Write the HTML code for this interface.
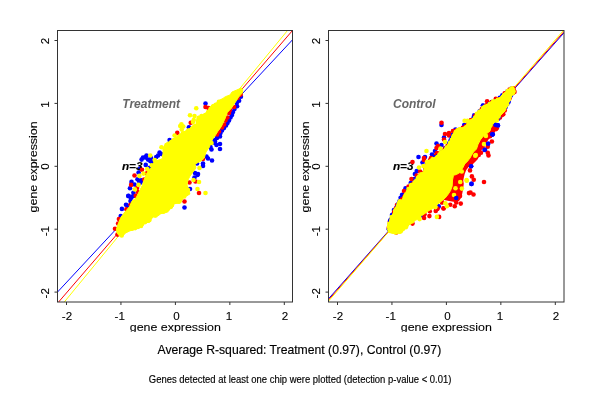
<!DOCTYPE html><html><head><meta charset="utf-8"><title>R-squared plot</title><style>
html,body{margin:0;padding:0;background:#fff;}svg{display:block;}
text{font-family:"Liberation Sans",Arial,Helvetica,sans-serif;fill:#000;stroke:#000;stroke-width:0.15px;}
.ax{font-size:11.6px;stroke-width:0.1px;}.lab{font-size:11.4px;stroke-width:0.1px;}.ttl{font-size:12.2px;}.sub{font-size:10.2px;}
.nm{font-size:12px;font-weight:bold;font-style:italic;fill:#666;stroke:none;}.n3{font-size:11.2px;font-weight:bold;font-style:italic;}
</style></head><body>
<svg width="600" height="400" viewBox="0 0 600 400">
<defs><clipPath id="clipb"><rect x="0" y="0" width="600" height="332"/></clipPath>
<clipPath id="cl"><rect x="57.5" y="30.5" width="235" height="271.5"/></clipPath>
<clipPath id="cr"><rect x="328.5" y="30.5" width="235.5" height="271.5"/></clipPath></defs>
<rect width="600" height="400" fill="#fff"/>
<path d="M66.50 302V305 M120.95 302V305 M175.40 302V305 M229.85 302V305 M284.30 302V305 M57.50 40.50H54.50 M57.50 103.40H54.50 M57.50 166.30H54.50 M57.50 229.20H54.50 M57.50 292.10H54.50" stroke="#333" stroke-width="1" fill="none"/>
<text x="67.00" y="319.5" text-anchor="middle" class="ax">-2</text>
<text x="119.75" y="319.5" text-anchor="middle" class="ax">-1</text>
<text x="176.40" y="319.5" text-anchor="middle" class="ax">0</text>
<text x="229.05" y="319.5" text-anchor="middle" class="ax">1</text>
<text x="284.90" y="319.5" text-anchor="middle" class="ax">2</text>
<text transform="translate(49.00,41.00) rotate(-90)" text-anchor="middle" class="ax">2</text>
<text transform="translate(49.00,104.60) rotate(-90)" text-anchor="middle" class="ax">1</text>
<text transform="translate(49.00,166.60) rotate(-90)" text-anchor="middle" class="ax">0</text>
<text transform="translate(49.00,231.20) rotate(-90)" text-anchor="middle" class="ax">-1</text>
<text transform="translate(49.00,293.30) rotate(-90)" text-anchor="middle" class="ax">-2</text>
<text x="175.30" y="331" text-anchor="middle" class="lab" textLength="91" lengthAdjust="spacingAndGlyphs" clip-path="url(#clipb)">gene expression</text>
<text transform="translate(36.90,166.9) rotate(-90)" text-anchor="middle" class="lab" textLength="91" lengthAdjust="spacingAndGlyphs">gene expression</text>
<text x="122.3" y="107.5" class="nm">Treatment</text>
<g clip-path="url(#cl)">
<line x1="57.5" y1="292.05" x2="292.5" y2="39.8" stroke="#00f" stroke-width="1"/>
<line x1="58.6" y1="302" x2="292.5" y2="30.5" stroke="#f00" stroke-width="1"/>
<line x1="64.3" y1="302" x2="287.5" y2="30.5" stroke="#ff0" stroke-width="1"/>
</g>
<g fill="#00f"><circle cx="240.90" cy="96.70" r="2.3"/><circle cx="239.10" cy="100.70" r="2.3"/><circle cx="236.80" cy="103.00" r="2.3"/><circle cx="237.10" cy="106.20" r="2.3"/><circle cx="234.50" cy="109.00" r="2.3"/><circle cx="233.00" cy="112.00" r="2.3"/><circle cx="232.00" cy="115.00" r="2.3"/><circle cx="230.50" cy="117.50" r="2.3"/><circle cx="229.00" cy="120.50" r="2.3"/><circle cx="227.50" cy="123.00" r="2.3"/><circle cx="226.00" cy="125.50" r="2.3"/><circle cx="224.00" cy="128.00" r="2.3"/><circle cx="222.00" cy="130.50" r="2.3"/><circle cx="220.50" cy="133.00" r="2.3"/><circle cx="219.00" cy="135.50" r="2.3"/><circle cx="217.00" cy="138.00" r="2.3"/><circle cx="214.50" cy="140.00" r="2.3"/><circle cx="220.00" cy="136.50" r="2.3"/><circle cx="211.00" cy="143.00" r="2.3"/><circle cx="215.00" cy="143.00" r="2.3"/><circle cx="209.00" cy="146.00" r="2.3"/><circle cx="205.50" cy="103.50" r="2.3"/><circle cx="188.90" cy="127.25" r="2.3"/><circle cx="215.00" cy="141.50" r="2.3"/><circle cx="220.00" cy="144.00" r="2.3"/><circle cx="220.00" cy="149.00" r="2.3"/><circle cx="211.50" cy="149.50" r="2.3"/><circle cx="210.50" cy="147.00" r="2.3"/><circle cx="216.50" cy="145.00" r="2.3"/><circle cx="206.50" cy="156.50" r="2.3"/><circle cx="208.00" cy="158.50" r="2.3"/><circle cx="212.00" cy="160.50" r="2.3"/><circle cx="203.00" cy="163.50" r="2.3"/><circle cx="197.00" cy="163.50" r="2.3"/><circle cx="203.00" cy="166.00" r="2.3"/><circle cx="198.00" cy="174.00" r="2.3"/><circle cx="195.00" cy="173.00" r="2.3"/><circle cx="194.50" cy="177.50" r="2.3"/><circle cx="197.50" cy="175.00" r="2.3"/><circle cx="190.00" cy="189.00" r="2.3"/><circle cx="184.50" cy="207.50" r="2.3"/><circle cx="141.60" cy="159.60" r="2.3"/><circle cx="145.40" cy="157.40" r="2.3"/><circle cx="148.00" cy="159.60" r="2.3"/><circle cx="150.30" cy="161.10" r="2.3"/><circle cx="145.75" cy="164.90" r="2.3"/><circle cx="146.50" cy="155.50" r="2.3"/><circle cx="151.00" cy="158.00" r="2.3"/><circle cx="152.00" cy="162.00" r="2.3"/><circle cx="143.00" cy="157.50" r="2.3"/><circle cx="156.25" cy="157.00" r="2.3"/><circle cx="159.60" cy="152.50" r="2.3"/><circle cx="161.50" cy="154.00" r="2.3"/><circle cx="158.10" cy="155.50" r="2.3"/><circle cx="149.50" cy="167.90" r="2.3"/><circle cx="140.00" cy="168.50" r="2.3"/><circle cx="175.80" cy="140.50" r="2.3"/><circle cx="169.60" cy="140.00" r="2.3"/><circle cx="138.60" cy="172.50" r="2.3"/><circle cx="137.50" cy="179.25" r="2.3"/><circle cx="141.25" cy="180.40" r="2.3"/><circle cx="140.50" cy="182.60" r="2.3"/><circle cx="139.00" cy="181.00" r="2.3"/><circle cx="131.50" cy="181.90" r="2.3"/><circle cx="134.50" cy="184.50" r="2.3"/><circle cx="130.00" cy="188.25" r="2.3"/><circle cx="133.40" cy="192.75" r="2.3"/><circle cx="128.50" cy="195.75" r="2.3"/><circle cx="132.25" cy="196.50" r="2.3"/><circle cx="128.25" cy="196.10" r="2.3"/><circle cx="130.90" cy="198.00" r="2.3"/><circle cx="134.25" cy="195.75" r="2.3"/><circle cx="130.50" cy="201.00" r="2.3"/><circle cx="126.00" cy="204.75" r="2.3"/><circle cx="127.50" cy="205.90" r="2.3"/><circle cx="121.90" cy="208.90" r="2.3"/><circle cx="120.75" cy="216.00" r="2.3"/></g>
<text x="121.9" y="169.8" class="n3" textLength="20.6" lengthAdjust="spacingAndGlyphs">n=3</text>
<g fill="#f00"><circle cx="240.60" cy="94.60" r="2.3"/><circle cx="237.60" cy="98.00" r="2.3"/><circle cx="234.00" cy="107.00" r="2.3"/><circle cx="230.00" cy="110.00" r="2.3"/><circle cx="229.00" cy="113.00" r="2.3"/><circle cx="227.40" cy="117.50" r="2.3"/><circle cx="225.40" cy="120.50" r="2.3"/><circle cx="224.00" cy="124.50" r="2.3"/><circle cx="222.00" cy="127.50" r="2.3"/><circle cx="219.00" cy="131.50" r="2.3"/><circle cx="217.00" cy="134.50" r="2.3"/><circle cx="205.50" cy="107.00" r="2.3"/><circle cx="208.50" cy="108.00" r="2.3"/><circle cx="190.75" cy="122.75" r="2.3"/><circle cx="177.25" cy="132.90" r="2.3"/><circle cx="203.00" cy="159.00" r="2.3"/><circle cx="195.50" cy="181.50" r="2.3"/><circle cx="189.50" cy="182.50" r="2.3"/><circle cx="199.00" cy="193.00" r="2.3"/><circle cx="184.50" cy="201.50" r="2.3"/><circle cx="142.00" cy="169.75" r="2.3"/><circle cx="146.90" cy="173.25" r="2.3"/><circle cx="134.50" cy="175.50" r="2.3"/><circle cx="144.25" cy="179.60" r="2.3"/><circle cx="131.10" cy="184.90" r="2.3"/><circle cx="137.10" cy="187.90" r="2.3"/><circle cx="137.90" cy="192.00" r="2.3"/><circle cx="135.75" cy="195.75" r="2.3"/><circle cx="130.50" cy="204.75" r="2.3"/><circle cx="126.40" cy="209.25" r="2.3"/><circle cx="118.90" cy="219.00" r="2.3"/><circle cx="120.40" cy="220.90" r="2.3"/><circle cx="118.10" cy="223.50" r="2.3"/><circle cx="115.00" cy="228.75" r="2.3"/><circle cx="117.50" cy="234.60" r="2.3"/></g>
<polygon points="241.50,88.00 242.70,89.50 242.50,93.00 240.30,95.00 238.00,97.90 236.30,100.75 234.50,103.60 232.20,107.00 229.40,110.50 227.40,112.20 226.00,116.00 224.40,120.00 222.50,124.00 221.00,127.00 218.00,131.00 215.60,135.00 212.00,140.00 210.50,144.00 209.50,147.00 206.00,152.00 204.30,158.00 201.00,161.00 197.00,163.00 195.00,164.50 196.00,168.00 193.00,172.00 190.00,176.00 188.00,180.00 187.00,185.00 189.00,190.00 189.00,194.00 186.00,196.00 182.00,199.00 180.00,203.00 174.00,203.50 173.00,207.00 170.00,209.00 167.00,212.00 163.00,213.00 160.00,214.00 156.00,217.00 152.00,217.00 150.00,222.00 145.00,223.00 142.00,226.70 140.00,227.50 134.20,229.60 130.00,230.80 125.80,232.90 122.00,236.50 119.50,236.00 117.00,233.00 116.50,229.00 117.75,225.00 119.25,221.25 120.75,217.50 123.00,214.50 126.00,210.75 129.75,206.25 132.00,201.00 136.00,198.00 137.50,195.00 140.00,190.00 142.50,185.00 144.00,180.00 146.00,175.00 148.00,171.00 149.50,169.00 152.50,166.75 154.75,161.50 163.00,158.50 163.00,149.50 165.00,144.50 170.00,141.50 172.00,139.25 176.50,137.00 178.00,135.50 180.25,134.75 181.75,132.50 185.50,131.00 187.00,129.50 189.25,128.75 193.00,125.75 196.00,124.25 196.75,119.75 197.50,116.75 202.00,115.25 205.75,113.00 209.00,109.00 212.00,105.00 215.00,103.60 217.30,102.50 218.40,100.75 220.70,99.60 223.00,98.40 225.30,96.70 230.00,95.00 232.00,92.00 236.70,90.00" fill="#ff0" stroke="#ff0" stroke-width="1" stroke-linejoin="round"/>
<g fill="#ff0"><circle cx="188.01" cy="190.00" r="2.3"/><circle cx="187.86" cy="193.26" r="2.3"/><circle cx="186.04" cy="194.23" r="2.3"/><circle cx="184.27" cy="196.40" r="2.3"/><circle cx="180.98" cy="198.78" r="2.3"/><circle cx="178.91" cy="200.94" r="2.3"/><circle cx="178.06" cy="201.45" r="2.3"/><circle cx="174.92" cy="201.95" r="2.3"/><circle cx="172.12" cy="204.74" r="2.3"/><circle cx="170.81" cy="206.86" r="2.3"/><circle cx="167.77" cy="209.10" r="2.3"/><circle cx="166.57" cy="210.45" r="2.3"/><circle cx="163.48" cy="211.79" r="2.3"/><circle cx="160.71" cy="211.93" r="2.3"/><circle cx="157.59" cy="213.85" r="2.3"/><circle cx="155.47" cy="215.44" r="2.3"/><circle cx="150.81" cy="216.81" r="2.3"/><circle cx="149.42" cy="220.12" r="2.3"/><circle cx="147.48" cy="220.72" r="2.3"/><circle cx="145.02" cy="222.12" r="2.3"/><circle cx="141.89" cy="223.88" r="2.3"/><circle cx="140.53" cy="225.72" r="2.3"/><circle cx="137.87" cy="226.88" r="2.3"/><circle cx="135.06" cy="228.10" r="2.3"/><circle cx="131.91" cy="228.80" r="2.3"/><circle cx="155.35" cy="163.14" r="2.3"/><circle cx="158.72" cy="162.14" r="2.3"/><circle cx="162.23" cy="160.79" r="2.3"/><circle cx="164.03" cy="156.26" r="2.3"/><circle cx="165.13" cy="153.11" r="2.3"/><circle cx="165.08" cy="149.72" r="2.3"/><circle cx="165.38" cy="147.77" r="2.3"/><circle cx="166.53" cy="145.13" r="2.3"/><circle cx="168.33" cy="143.69" r="2.3"/><circle cx="171.18" cy="142.18" r="2.3"/><circle cx="173.76" cy="140.52" r="2.3"/><circle cx="176.25" cy="139.31" r="2.3"/><circle cx="178.77" cy="137.19" r="2.3"/><circle cx="180.29" cy="135.79" r="2.3"/><circle cx="182.84" cy="133.41" r="2.3"/><circle cx="185.82" cy="133.22" r="2.3"/><circle cx="188.40" cy="130.45" r="2.3"/><circle cx="192.19" cy="128.51" r="2.3"/><circle cx="194.52" cy="126.39" r="2.3"/><circle cx="198.05" cy="123.09" r="2.3"/><circle cx="198.66" cy="120.23" r="2.3"/><circle cx="198.78" cy="117.88" r="2.3"/><circle cx="201.54" cy="116.14" r="2.3"/><circle cx="205.33" cy="114.95" r="2.3"/><circle cx="208.33" cy="111.88" r="2.3"/><circle cx="210.64" cy="108.70" r="2.3"/><circle cx="212.92" cy="106.63" r="2.3"/><circle cx="215.87" cy="104.92" r="2.3"/><circle cx="218.91" cy="101.83" r="2.3"/><circle cx="221.94" cy="101.20" r="2.3"/><circle cx="196.25" cy="108.30" r="2.3"/><circle cx="190.00" cy="115.25" r="2.3"/><circle cx="194.50" cy="116.00" r="2.3"/><circle cx="193.75" cy="120.10" r="2.3"/><circle cx="193.00" cy="122.00" r="2.3"/><circle cx="181.40" cy="124.25" r="2.3"/><circle cx="180.25" cy="126.10" r="2.3"/><circle cx="183.25" cy="126.50" r="2.3"/><circle cx="181.75" cy="129.50" r="2.3"/><circle cx="174.60" cy="135.50" r="2.3"/><circle cx="171.70" cy="142.20" r="2.3"/><circle cx="150.25" cy="155.50" r="2.3"/><circle cx="154.75" cy="160.00" r="2.3"/><circle cx="151.75" cy="165.25" r="2.3"/><circle cx="147.25" cy="169.00" r="2.3"/><circle cx="143.50" cy="173.60" r="2.3"/><circle cx="139.40" cy="175.90" r="2.3"/><circle cx="138.60" cy="184.90" r="2.3"/><circle cx="134.90" cy="189.40" r="2.3"/><circle cx="161.50" cy="147.25" r="2.3"/><circle cx="211.50" cy="143.00" r="2.3"/><circle cx="199.50" cy="168.00" r="2.3"/><circle cx="199.00" cy="182.00" r="2.3"/><circle cx="193.50" cy="180.00" r="2.3"/><circle cx="197.50" cy="189.00" r="2.3"/><circle cx="205.50" cy="193.00" r="2.3"/><circle cx="179.50" cy="201.50" r="2.3"/><circle cx="121.70" cy="235.40" r="2.3"/><circle cx="141.00" cy="226.00" r="2.3"/></g>
<rect x="57.5" y="30.5" width="235" height="271.5" fill="none" stroke="#333" stroke-width="1"/>
<path d="M337.50 302V305 M391.95 302V305 M446.40 302V305 M500.85 302V305 M555.30 302V305 M328.50 40.50H325.50 M328.50 103.40H325.50 M328.50 166.30H325.50 M328.50 229.20H325.50 M328.50 292.10H325.50" stroke="#333" stroke-width="1" fill="none"/>
<text x="338.00" y="319.5" text-anchor="middle" class="ax">-2</text>
<text x="390.75" y="319.5" text-anchor="middle" class="ax">-1</text>
<text x="447.40" y="319.5" text-anchor="middle" class="ax">0</text>
<text x="500.05" y="319.5" text-anchor="middle" class="ax">1</text>
<text x="555.90" y="319.5" text-anchor="middle" class="ax">2</text>
<text transform="translate(320.00,41.00) rotate(-90)" text-anchor="middle" class="ax">2</text>
<text transform="translate(320.00,104.60) rotate(-90)" text-anchor="middle" class="ax">1</text>
<text transform="translate(320.00,166.60) rotate(-90)" text-anchor="middle" class="ax">0</text>
<text transform="translate(320.00,231.20) rotate(-90)" text-anchor="middle" class="ax">-1</text>
<text transform="translate(320.00,293.30) rotate(-90)" text-anchor="middle" class="ax">-2</text>
<text x="446.30" y="331" text-anchor="middle" class="lab" textLength="91" lengthAdjust="spacingAndGlyphs" clip-path="url(#clipb)">gene expression</text>
<text transform="translate(308.60,166.9) rotate(-90)" text-anchor="middle" class="lab" textLength="91" lengthAdjust="spacingAndGlyphs">gene expression</text>
<text x="393.00" y="107.7" class="nm">Control</text>
<g clip-path="url(#cr)">
<line x1="328.5" y1="298.8" x2="564" y2="32.8" stroke="#00f" stroke-width="1"/>
<line x1="328.5" y1="300" x2="564.2" y2="31.3" stroke="#f00" stroke-width="1"/>
<line x1="328.5" y1="301.2" x2="563.5" y2="30.4" stroke="#ff0" stroke-width="1"/>
</g>
<g fill="#00f"><circle cx="483.00" cy="105.50" r="2.3"/><circle cx="482.90" cy="105.80" r="2.3"/><circle cx="441.50" cy="125.00" r="2.3"/><circle cx="464.20" cy="125.00" r="2.3"/><circle cx="455.50" cy="129.50" r="2.3"/><circle cx="453.50" cy="134.50" r="2.3"/><circle cx="444.00" cy="137.50" r="2.3"/><circle cx="452.50" cy="135.00" r="2.3"/><circle cx="436.50" cy="143.50" r="2.3"/><circle cx="441.50" cy="145.00" r="2.3"/><circle cx="435.00" cy="151.00" r="2.3"/><circle cx="432.00" cy="154.50" r="2.3"/><circle cx="418.50" cy="157.00" r="2.3"/><circle cx="425.00" cy="157.00" r="2.3"/><circle cx="422.50" cy="162.50" r="2.3"/><circle cx="416.75" cy="171.10" r="2.3"/><circle cx="414.90" cy="174.10" r="2.3"/><circle cx="414.10" cy="179.00" r="2.3"/><circle cx="410.75" cy="183.10" r="2.3"/><circle cx="405.50" cy="188.40" r="2.3"/><circle cx="402.10" cy="194.75" r="2.3"/><circle cx="400.60" cy="197.75" r="2.3"/><circle cx="394.00" cy="210.00" r="2.3"/><circle cx="392.00" cy="215.00" r="2.3"/><circle cx="474.20" cy="115.40" r="2.3"/><circle cx="491.70" cy="102.00" r="2.3"/><circle cx="498.30" cy="118.75" r="2.3"/><circle cx="495.80" cy="125.00" r="2.3"/><circle cx="497.90" cy="125.40" r="2.3"/><circle cx="492.50" cy="134.20" r="2.3"/><circle cx="490.80" cy="133.30" r="2.3"/><circle cx="492.25" cy="134.40" r="2.3"/><circle cx="488.10" cy="143.75" r="2.3"/><circle cx="484.75" cy="149.75" r="2.3"/><circle cx="471.10" cy="166.25" r="2.3"/><circle cx="471.50" cy="183.90" r="2.3"/><circle cx="460.25" cy="178.25" r="2.3"/><circle cx="456.25" cy="198.00" r="2.3"/><circle cx="452.50" cy="193.10" r="2.3"/><circle cx="438.75" cy="206.40" r="2.3"/><circle cx="423.00" cy="215.75" r="2.3"/><circle cx="485.00" cy="150.00" r="2.3"/></g>
<text x="392.90" y="169.6" class="n3" textLength="20.6" lengthAdjust="spacingAndGlyphs">n=3</text>
<g fill="#f00"><circle cx="487.10" cy="101.25" r="2.3"/><circle cx="486.25" cy="105.80" r="2.3"/><circle cx="495.80" cy="98.75" r="2.3"/><circle cx="514.50" cy="92.00" r="2.3"/><circle cx="502.00" cy="115.00" r="2.3"/><circle cx="441.50" cy="122.80" r="2.3"/><circle cx="474.20" cy="117.10" r="2.3"/><circle cx="470.80" cy="120.40" r="2.3"/><circle cx="468.75" cy="122.90" r="2.3"/><circle cx="445.00" cy="134.00" r="2.3"/><circle cx="449.00" cy="133.00" r="2.3"/><circle cx="449.00" cy="135.50" r="2.3"/><circle cx="453.00" cy="131.00" r="2.3"/><circle cx="453.50" cy="131.00" r="2.3"/><circle cx="444.00" cy="139.50" r="2.3"/><circle cx="438.00" cy="146.00" r="2.3"/><circle cx="436.50" cy="148.00" r="2.3"/><circle cx="445.00" cy="148.00" r="2.3"/><circle cx="437.00" cy="153.00" r="2.3"/><circle cx="436.00" cy="155.00" r="2.3"/><circle cx="424.00" cy="158.00" r="2.3"/><circle cx="424.00" cy="160.00" r="2.3"/><circle cx="431.00" cy="158.00" r="2.3"/><circle cx="412.50" cy="162.00" r="2.3"/><circle cx="420.10" cy="171.50" r="2.3"/><circle cx="416.75" cy="175.60" r="2.3"/><circle cx="411.50" cy="179.00" r="2.3"/><circle cx="408.50" cy="186.50" r="2.3"/><circle cx="404.00" cy="191.00" r="2.3"/><circle cx="402.10" cy="199.25" r="2.3"/><circle cx="397.00" cy="205.00" r="2.3"/><circle cx="396.00" cy="208.00" r="2.3"/><circle cx="390.00" cy="221.25" r="2.3"/><circle cx="388.75" cy="227.90" r="2.3"/><circle cx="503.30" cy="114.20" r="2.3"/><circle cx="500.00" cy="117.50" r="2.3"/><circle cx="496.70" cy="128.30" r="2.3"/><circle cx="492.50" cy="126.25" r="2.3"/><circle cx="492.50" cy="129.60" r="2.3"/><circle cx="490.00" cy="135.80" r="2.3"/><circle cx="488.30" cy="133.30" r="2.3"/><circle cx="493.00" cy="128.75" r="2.3"/><circle cx="496.00" cy="129.10" r="2.3"/><circle cx="492.25" cy="131.75" r="2.3"/><circle cx="489.25" cy="134.00" r="2.3"/><circle cx="490.00" cy="136.25" r="2.3"/><circle cx="491.90" cy="141.50" r="2.3"/><circle cx="485.50" cy="140.00" r="2.3"/><circle cx="481.00" cy="141.50" r="2.3"/><circle cx="479.50" cy="144.50" r="2.3"/><circle cx="482.50" cy="146.75" r="2.3"/><circle cx="487.75" cy="146.75" r="2.3"/><circle cx="487.75" cy="152.75" r="2.3"/><circle cx="488.50" cy="155.40" r="2.3"/><circle cx="479.50" cy="149.00" r="2.3"/><circle cx="481.00" cy="152.75" r="2.3"/><circle cx="476.50" cy="151.25" r="2.3"/><circle cx="475.00" cy="154.25" r="2.3"/><circle cx="478.75" cy="155.00" r="2.3"/><circle cx="473.50" cy="157.25" r="2.3"/><circle cx="470.00" cy="170.40" r="2.3"/><circle cx="471.90" cy="176.40" r="2.3"/><circle cx="473.75" cy="179.75" r="2.3"/><circle cx="469.00" cy="193.10" r="2.3"/><circle cx="484.00" cy="182.00" r="2.3"/><circle cx="470.50" cy="192.50" r="2.3"/><circle cx="473.50" cy="194.50" r="2.3"/><circle cx="456.25" cy="202.50" r="2.3"/><circle cx="460.75" cy="203.60" r="2.3"/><circle cx="454.75" cy="206.25" r="2.3"/><circle cx="443.50" cy="208.50" r="2.3"/><circle cx="450.25" cy="204.75" r="2.3"/><circle cx="442.00" cy="202.50" r="2.3"/><circle cx="437.50" cy="208.50" r="2.3"/><circle cx="442.10" cy="202.25" r="2.3"/><circle cx="443.60" cy="208.25" r="2.3"/><circle cx="435.75" cy="210.90" r="2.3"/><circle cx="437.25" cy="209.00" r="2.3"/><circle cx="429.75" cy="211.25" r="2.3"/><circle cx="429.40" cy="216.10" r="2.3"/><circle cx="424.10" cy="218.00" r="2.3"/><circle cx="424.50" cy="214.25" r="2.3"/><circle cx="439.10" cy="216.90" r="2.3"/><circle cx="412.50" cy="223.60" r="2.3"/><circle cx="396.25" cy="232.50" r="2.3"/><circle cx="460.00" cy="196.00" r="2.3"/><circle cx="452.50" cy="198.50" r="2.3"/></g>
<g fill="#00f"><circle cx="388.86" cy="229.26" r="2.3"/><circle cx="389.56" cy="226.25" r="2.3"/><circle cx="389.78" cy="223.39" r="2.3"/><circle cx="390.28" cy="220.32" r="2.3"/><circle cx="391.87" cy="217.84" r="2.3"/><circle cx="392.97" cy="214.62" r="2.3"/><circle cx="397.05" cy="207.09" r="2.3"/><circle cx="398.41" cy="203.80" r="2.3"/><circle cx="399.45" cy="201.21" r="2.3"/><circle cx="408.39" cy="191.12" r="2.3"/><circle cx="415.43" cy="180.88" r="2.3"/><circle cx="417.34" cy="178.30" r="2.3"/><circle cx="421.17" cy="175.02" r="2.3"/><circle cx="425.23" cy="170.50" r="2.3"/><circle cx="428.42" cy="162.97" r="2.3"/><circle cx="434.89" cy="157.38" r="2.3"/><circle cx="437.59" cy="156.27" r="2.3"/><circle cx="441.68" cy="151.71" r="2.3"/><circle cx="445.54" cy="148.38" r="2.3"/><circle cx="449.12" cy="143.21" r="2.3"/><circle cx="450.59" cy="140.36" r="2.3"/><circle cx="451.81" cy="137.72" r="2.3"/><circle cx="453.73" cy="135.78" r="2.3"/><circle cx="469.63" cy="121.89" r="2.3"/><circle cx="473.55" cy="117.91" r="2.3"/><circle cx="479.69" cy="111.26" r="2.3"/><circle cx="488.89" cy="104.40" r="2.3"/><circle cx="494.99" cy="100.98" r="2.3"/><circle cx="499.76" cy="97.88" r="2.3"/><circle cx="502.36" cy="95.35" r="2.3"/><circle cx="507.56" cy="91.42" r="2.3"/><circle cx="511.00" cy="88.68" r="2.3"/><circle cx="510.96" cy="95.57" r="2.3"/><circle cx="508.70" cy="101.64" r="2.3"/><circle cx="507.24" cy="104.10" r="2.3"/><circle cx="505.58" cy="107.27" r="2.3"/><circle cx="499.05" cy="116.63" r="2.3"/><circle cx="494.80" cy="120.54" r="2.3"/><circle cx="492.39" cy="123.22" r="2.3"/><circle cx="490.97" cy="125.91" r="2.3"/></g><g fill="#f00"><circle cx="394.07" cy="212.09" r="2.3"/><circle cx="395.86" cy="209.19" r="2.3"/><circle cx="401.86" cy="200.83" r="2.3"/><circle cx="403.54" cy="198.70" r="2.3"/><circle cx="404.63" cy="196.24" r="2.3"/><circle cx="406.28" cy="193.88" r="2.3"/><circle cx="410.01" cy="188.40" r="2.3"/><circle cx="411.24" cy="185.33" r="2.3"/><circle cx="413.19" cy="183.70" r="2.3"/><circle cx="419.22" cy="176.39" r="2.3"/><circle cx="423.55" cy="173.40" r="2.3"/><circle cx="425.04" cy="167.00" r="2.3"/><circle cx="426.70" cy="165.13" r="2.3"/><circle cx="429.94" cy="160.42" r="2.3"/><circle cx="432.84" cy="159.26" r="2.3"/><circle cx="439.79" cy="153.63" r="2.3"/><circle cx="443.83" cy="150.36" r="2.3"/><circle cx="447.41" cy="146.09" r="2.3"/><circle cx="455.17" cy="132.81" r="2.3"/><circle cx="457.27" cy="130.29" r="2.3"/><circle cx="460.12" cy="129.66" r="2.3"/><circle cx="462.81" cy="127.88" r="2.3"/><circle cx="465.92" cy="125.98" r="2.3"/><circle cx="468.27" cy="124.29" r="2.3"/><circle cx="471.27" cy="120.01" r="2.3"/><circle cx="475.59" cy="115.45" r="2.3"/><circle cx="477.82" cy="114.00" r="2.3"/><circle cx="481.81" cy="109.10" r="2.3"/><circle cx="484.28" cy="107.83" r="2.3"/><circle cx="486.43" cy="105.41" r="2.3"/><circle cx="491.69" cy="102.20" r="2.3"/><circle cx="497.63" cy="99.27" r="2.3"/><circle cx="504.69" cy="93.24" r="2.3"/><circle cx="509.56" cy="89.50" r="2.3"/><circle cx="513.20" cy="88.29" r="2.3"/><circle cx="514.04" cy="90.78" r="2.3"/><circle cx="513.17" cy="93.00" r="2.3"/><circle cx="509.58" cy="98.55" r="2.3"/><circle cx="504.74" cy="110.55" r="2.3"/><circle cx="502.58" cy="112.61" r="2.3"/><circle cx="500.26" cy="114.36" r="2.3"/><circle cx="496.59" cy="119.14" r="2.3"/></g>
<polygon points="497.00,127.00 496.50,130.00 494.00,133.00 491.00,137.00 488.00,140.00 486.00,143.00 483.00,147.00 481.00,151.00 480.00,155.00 477.50,159.50 474.50,162.50 472.25,164.75 468.50,167.00 466.25,170.00 464.75,173.75 464.00,176.75 463.25,180.50 463.75,183.75 463.00,189.75 462.25,193.50 461.50,197.25 459.00,201.00 455.00,202.00 449.00,201.00 444.00,200.00 440.00,201.00 436.00,203.00 420.00,190.00 470.00,120.00 490.00,125.00" fill="#f00"/>
<polygon points="514.00,88.00 514.50,92.00 511.00,97.00 509.00,102.00 506.00,107.00 505.00,111.00 500.00,116.00 496.00,121.00 492.00,124.00 490.75,128.00 490.00,131.00 486.25,134.00 483.25,136.25 480.25,140.00 478.00,144.50 476.50,149.00 473.50,152.00 471.25,155.75 470.00,158.00 467.75,161.00 464.75,164.00 462.50,168.50 460.25,172.25 456.50,174.50 453.50,175.25 452.75,179.00 452.50,180.00 452.20,186.00 450.60,190.50 448.00,194.50 445.20,198.00 441.50,201.20 437.20,204.50 434.20,207.80 429.00,210.50 426.00,212.75 421.50,215.75 418.50,218.75 415.50,220.25 412.50,222.50 408.75,224.75 406.50,227.75 402.50,230.00 400.80,232.90 395.00,233.30 390.80,232.90 388.30,231.70 388.30,229.20 388.75,225.00 390.00,220.00 392.50,215.00 396.00,207.00 399.00,201.00 402.50,200.00 404.00,197.00 405.50,194.00 407.75,191.00 410.00,187.25 410.75,185.00 413.00,182.40 415.25,179.75 418.25,176.75 420.50,174.50 424.00,172.00 425.00,166.00 427.00,163.00 430.00,160.00 435.00,157.00 439.00,154.00 443.00,150.00 447.50,145.50 450.00,141.00 451.50,137.50 454.00,133.50 457.00,130.00 463.00,127.50 466.70,125.00 469.20,121.70 471.70,119.20 474.20,116.70 475.80,114.20 478.30,112.50 479.60,110.00 482.50,108.30 485.00,105.80 489.20,103.30 493.30,100.80 500.00,97.50 503.00,94.00 507.00,91.00 511.00,88.00" fill="#ff0" stroke="#ff0" stroke-width="1" stroke-linejoin="round"/>
<g fill="#ff0"><circle cx="411.94" cy="221.57" r="2.3"/><circle cx="409.38" cy="222.65" r="2.3"/><circle cx="407.06" cy="224.77" r="2.3"/><circle cx="405.85" cy="227.23" r="2.3"/><circle cx="403.07" cy="228.83" r="2.3"/><circle cx="400.79" cy="231.37" r="2.3"/><circle cx="399.36" cy="231.79" r="2.3"/><circle cx="395.77" cy="232.40" r="2.3"/><circle cx="393.14" cy="231.66" r="2.3"/><circle cx="389.99" cy="230.97" r="2.3"/><circle cx="390.17" cy="229.84" r="2.3"/><circle cx="389.42" cy="229.32" r="2.3"/><circle cx="389.04" cy="226.80" r="2.3"/><circle cx="389.25" cy="223.86" r="2.3"/><circle cx="391.62" cy="221.77" r="2.3"/><circle cx="391.55" cy="219.84" r="2.3"/><circle cx="391.84" cy="216.94" r="2.3"/><circle cx="394.15" cy="215.24" r="2.3"/><circle cx="395.21" cy="212.92" r="2.3"/><circle cx="395.22" cy="210.47" r="2.3"/><circle cx="396.59" cy="208.68" r="2.3"/><circle cx="398.01" cy="206.06" r="2.3"/><circle cx="398.93" cy="203.29" r="2.3"/><circle cx="399.86" cy="201.18" r="2.3"/><circle cx="402.46" cy="201.62" r="2.3"/><circle cx="404.49" cy="198.36" r="2.3"/><circle cx="405.18" cy="196.28" r="2.3"/><circle cx="406.18" cy="194.37" r="2.3"/><circle cx="407.80" cy="191.93" r="2.3"/><circle cx="410.61" cy="190.05" r="2.3"/><circle cx="410.92" cy="187.50" r="2.3"/><circle cx="411.11" cy="184.96" r="2.3"/><circle cx="414.10" cy="184.21" r="2.3"/><circle cx="415.07" cy="182.12" r="2.3"/><circle cx="416.41" cy="180.51" r="2.3"/><circle cx="418.01" cy="177.85" r="2.3"/><circle cx="419.31" cy="176.21" r="2.3"/><circle cx="421.12" cy="174.34" r="2.3"/><circle cx="423.44" cy="173.86" r="2.3"/><circle cx="425.27" cy="170.69" r="2.3"/><circle cx="426.11" cy="168.30" r="2.3"/><circle cx="426.18" cy="166.68" r="2.3"/><circle cx="427.48" cy="164.83" r="2.3"/><circle cx="428.51" cy="161.93" r="2.3"/><circle cx="430.93" cy="161.09" r="2.3"/><circle cx="432.50" cy="159.36" r="2.3"/><circle cx="435.92" cy="159.01" r="2.3"/><circle cx="437.53" cy="157.11" r="2.3"/><circle cx="439.50" cy="154.46" r="2.3"/><circle cx="441.14" cy="152.26" r="2.3"/><circle cx="443.78" cy="151.41" r="2.3"/><circle cx="445.82" cy="149.65" r="2.3"/><circle cx="446.75" cy="147.51" r="2.3"/><circle cx="449.19" cy="145.27" r="2.3"/><circle cx="450.11" cy="142.86" r="2.3"/><circle cx="451.84" cy="140.12" r="2.3"/><circle cx="453.08" cy="138.37" r="2.3"/><circle cx="453.60" cy="136.16" r="2.3"/><circle cx="454.83" cy="134.22" r="2.3"/><circle cx="455.75" cy="132.04" r="2.3"/><circle cx="457.50" cy="130.23" r="2.3"/><circle cx="460.12" cy="128.97" r="2.3"/><circle cx="463.39" cy="129.31" r="2.3"/><circle cx="465.78" cy="127.58" r="2.3"/><circle cx="468.12" cy="125.91" r="2.3"/><circle cx="468.83" cy="123.28" r="2.3"/><circle cx="471.04" cy="121.28" r="2.3"/><circle cx="473.43" cy="120.18" r="2.3"/><circle cx="474.90" cy="118.17" r="2.3"/><circle cx="476.71" cy="116.27" r="2.3"/><circle cx="476.88" cy="113.83" r="2.3"/><circle cx="479.32" cy="111.72" r="2.3"/><circle cx="481.92" cy="111.16" r="2.3"/><circle cx="483.20" cy="107.92" r="2.3"/><circle cx="484.99" cy="106.68" r="2.3"/><circle cx="487.32" cy="106.07" r="2.3"/><circle cx="489.72" cy="104.05" r="2.3"/><circle cx="491.84" cy="103.24" r="2.3"/><circle cx="493.24" cy="101.27" r="2.3"/><circle cx="496.12" cy="101.19" r="2.3"/><circle cx="497.83" cy="99.80" r="2.3"/><circle cx="500.63" cy="99.12" r="2.3"/><circle cx="503.01" cy="97.02" r="2.3"/><circle cx="504.22" cy="95.08" r="2.3"/><circle cx="506.46" cy="93.85" r="2.3"/><circle cx="507.60" cy="91.05" r="2.3"/><circle cx="509.82" cy="90.46" r="2.3"/><circle cx="511.75" cy="89.26" r="2.3"/><circle cx="511.00" cy="88.97" r="2.3"/><circle cx="512.28" cy="88.22" r="2.3"/><circle cx="513.57" cy="91.28" r="2.3"/><circle cx="512.92" cy="92.93" r="2.3"/><circle cx="510.62" cy="94.36" r="2.3"/><circle cx="509.48" cy="96.87" r="2.3"/><circle cx="508.96" cy="99.33" r="2.3"/><circle cx="507.15" cy="101.19" r="2.3"/><circle cx="506.91" cy="104.46" r="2.3"/><circle cx="505.40" cy="106.52" r="2.3"/><circle cx="503.35" cy="109.55" r="2.3"/><circle cx="502.09" cy="111.10" r="2.3"/><circle cx="499.76" cy="113.12" r="2.3"/><circle cx="498.46" cy="116.39" r="2.3"/><circle cx="496.14" cy="118.62" r="2.3"/><circle cx="494.18" cy="120.47" r="2.3"/><circle cx="492.22" cy="122.39" r="2.3"/><circle cx="490.51" cy="125.19" r="2.3"/><circle cx="488.94" cy="127.18" r="2.3"/><circle cx="464.60" cy="120.80" r="2.3"/><circle cx="467.50" cy="120.80" r="2.3"/><circle cx="481.70" cy="110.80" r="2.3"/><circle cx="477.50" cy="114.60" r="2.3"/><circle cx="445.00" cy="142.00" r="2.3"/><circle cx="440.50" cy="148.50" r="2.3"/><circle cx="426.50" cy="151.00" r="2.3"/><circle cx="419.00" cy="167.50" r="2.3"/><circle cx="423.50" cy="166.00" r="2.3"/><circle cx="427.00" cy="162.00" r="2.3"/><circle cx="408.50" cy="189.10" r="2.3"/><circle cx="485.90" cy="135.90" r="2.3"/><circle cx="484.00" cy="144.10" r="2.3"/><circle cx="475.75" cy="155.00" r="2.3"/><circle cx="475.25" cy="155.75" r="2.3"/><circle cx="461.75" cy="171.50" r="2.3"/><circle cx="466.60" cy="180.10" r="2.3"/><circle cx="460.25" cy="182.00" r="2.3"/><circle cx="455.50" cy="188.25" r="2.3"/><circle cx="461.90" cy="188.60" r="2.3"/><circle cx="454.00" cy="195.00" r="2.3"/><circle cx="445.40" cy="203.25" r="2.3"/><circle cx="446.90" cy="206.25" r="2.3"/><circle cx="435.25" cy="206.60" r="2.3"/><circle cx="466.75" cy="180.75" r="2.3"/><circle cx="436.90" cy="216.90" r="2.3"/><circle cx="419.60" cy="219.10" r="2.3"/><circle cx="435.40" cy="207.10" r="2.3"/><circle cx="496.70" cy="120.40" r="2.3"/></g>
<g fill="#00f"><circle cx="495.80" cy="125.00" r="2.3"/><circle cx="497.90" cy="125.40" r="2.3"/><circle cx="492.75" cy="134.25" r="2.3"/><circle cx="492.25" cy="134.40" r="2.3"/><circle cx="488.10" cy="143.75" r="2.3"/><circle cx="484.75" cy="149.75" r="2.3"/><circle cx="471.10" cy="166.25" r="2.3"/><circle cx="471.50" cy="183.90" r="2.3"/><circle cx="456.25" cy="198.00" r="2.3"/></g>
<rect x="328.5" y="30.5" width="235.5" height="271.5" fill="none" stroke="#333" stroke-width="1"/>
<text x="299.4" y="354" text-anchor="middle" class="ttl">Average R-squared: Treatment (0.97), Control (0.97)</text>
<text x="300.1" y="382.7" text-anchor="middle" class="sub" textLength="302.5" lengthAdjust="spacingAndGlyphs">Genes detected at least one chip were plotted (detection p-value &lt; 0.01)</text>
</svg></body></html>
